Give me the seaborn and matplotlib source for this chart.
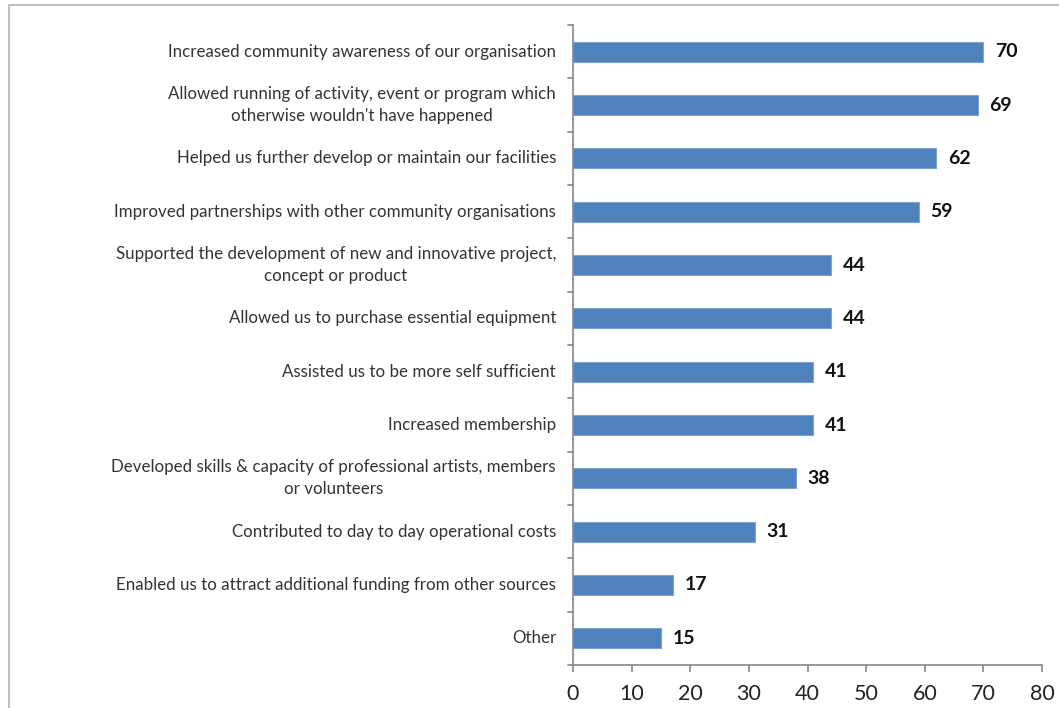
import matplotlib
matplotlib.use("Agg")
import matplotlib.pyplot as plt
from matplotlib.patches import Rectangle
import seaborn as sns
import pandas as pd

categories = [
    "Increased community awareness of our organisation",
    "Allowed running of activity, event or program which\notherwise wouldn't have happened",
    "Helped us further develop or maintain our facilities",
    "Improved partnerships with other community organisations",
    "Supported the development of new and innovative project,\nconcept or product",
    "Allowed us to purchase essential equipment",
    "Assisted us to be more self sufficient",
    "Increased membership",
    "Developed skills & capacity of professional artists, members\nor volunteers",
    "Contributed to day to day operational costs",
    "Enabled us to attract additional funding from other sources",
    "Other",
]
values = [70, 69, 62, 59, 44, 44, 41, 41, 38, 31, 17, 15]
x_ticks = [0, 10, 20, 30, 40, 50, 60, 70, 80]

df = pd.DataFrame({"category": categories, "value": values})

sns.set_theme(style="white")
plt.rcParams["font.family"] = ["Lato", "DejaVu Sans"]

W, H = 1059, 708
fig = plt.figure(figsize=(W / 100, H / 100), dpi=100)
ax = fig.add_axes([573 / W, 1 - 665 / H, (1042 - 573) / W, (665 - 25) / H])

sns.barplot(data=df, x="value", y="category", orient="h", ax=ax,
            color="#4F81BD", saturation=1, width=0.38,
            edgecolor="#7FA3D0", linewidth=0.8)

ax.set_xlim(0, 80)
ax.set_ylim(len(categories) - 0.5, -0.5)
ax.set_xticks(x_ticks)
ax.set_xticklabels([str(t) for t in x_ticks], fontsize=15.5, color="#222222")
ax.set_xlabel("")
ax.set_ylabel("")

# category labels drawn as text so multi-line labels stay centred line-to-line
ax.set_yticks([])
for i, label in enumerate(categories):
    ax.text(-0.036, i, label, transform=ax.get_yaxis_transform(),
            ha="right", va="center", multialignment="center",
            fontsize=12.2, color="#333333", linespacing=1.45)

# boundary ticks between categories on the value axis
for b in [i - 0.5 for i in range(len(categories) + 1)]:
    ax.plot([-0.011, 0], [b, b], transform=ax.get_yaxis_transform(),
            color="#868686", lw=1.2, clip_on=False)

for i, v in enumerate(values):
    ax.text(v + 2.0, i, str(v), ha="left", va="center",
            fontsize=14, fontweight="bold", color="#111111")

for side in ["top", "right"]:
    ax.spines[side].set_visible(False)
for side in ["left", "bottom"]:
    ax.spines[side].set_color("#868686")
    ax.spines[side].set_linewidth(1.2)
ax.tick_params(axis="x", which="both", bottom=True, direction="out",
               length=5, width=1.2, color="#868686", pad=9)

# outer chart frame
fig.patches.append(Rectangle((9 / W, -0.05), 1.2, 1 - 5 / H + 0.05,
                             transform=fig.transFigure, fill=False,
                             edgecolor="#C0C0C0", linewidth=1.5))

fig.savefig("out.png", dpi=100, facecolor="white")
